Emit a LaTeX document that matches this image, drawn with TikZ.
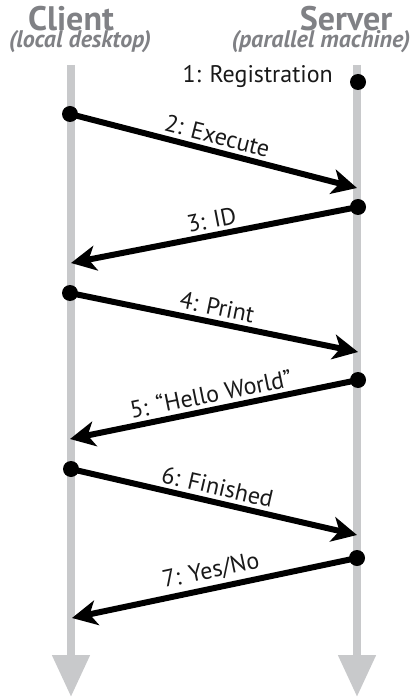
\documentclass[tikz,border=0pt]{standalone}
\usepackage{fontspec}
\setmainfont{PT Sans}
\usetikzlibrary{arrows.meta}
\definecolor{lifegray}{RGB}{200,201,203}
\definecolor{titlegray}{RGB}{128,129,133}
\tikzset{
  life/.style={draw=lifegray, line width=8pt, -{Triangle[width=36pt,length=42pt]}},
  msg/.style={draw=black, line width=6pt, -{Stealth[length=25pt,width=25pt,inset=7pt]}},
  dot/.style={circle, fill=black, minimum size=16pt, inner sep=0pt},
  lbl/.style={font=\fontsize{24}{24}\selectfont, text=black!90, inner sep=1pt},
  title/.style={font=\fontsize{34}{34}\selectfont\bfseries, text=titlegray, inner sep=0pt},
  subtitle/.style={font=\fontsize{24}{24}\selectfont\bfseries\itshape, text=titlegray, inner sep=0pt},
}
\begin{document}
\begin{tikzpicture}[x=1pt,y=-1pt]
\useasboundingbox (0,0) rectangle (412,700);
% titles
\node[title] (tc) at (71,19) {Client};
\node[subtitle] (stc) at (80,42) {(local desktop)};
\node[title] (ts) at (346,19) {Server};
\node[subtitle] (sts) at (321,42) {(parallel machine)};
% lifelines
\coordinate (cTop) at (71,65);
\coordinate (cBot) at (71,697);
\coordinate (sTop) at (357,65);
\coordinate (sBot) at (357,697);
\draw[life] (cTop) -- (cBot);
\draw[life] (sTop) -- (sBot);
% message 1
\node[dot] (d1) at (358,82) {};
\node[lbl, anchor=east] (l1) at (334,77) {1: Registration};
% dots
\node[dot] (d2) at (70,114) {};
\coordinate (e2) at (357,188);
\node[dot] (d3) at (358,207) {};
\coordinate (e3) at (71,263);
\node[dot] (d4) at (70,293) {};
\coordinate (e4) at (358,352);
\node[dot] (d5) at (358,380) {};
\coordinate (e5) at (70,439);
\node[dot] (d6) at (71,469) {};
\coordinate (e6) at (357,535);
\node[dot] (d7) at (357,558) {};
\coordinate (e7) at (72,618);
% messages
\draw[msg] (d2.center) -- node[lbl, sloped, above=3pt] {2: Execute} (e2);
\draw[msg] (d3.center) -- node[lbl, sloped, above=3pt] {3: ID} (e3);
\draw[msg] (d4.center) -- node[lbl, sloped, above=3pt] {4: Print} (e4);
\draw[msg] (d5.center) -- node[lbl, sloped, above=3pt] {5: “Hello World”} (e5);
\draw[msg] (d6.center) -- node[lbl, sloped, above=3pt] {6: Finished} (e6);
\draw[msg] (d7.center) -- node[lbl, sloped, above=3pt] {7: Yes/No} (e7);
\end{tikzpicture}
\end{document}
